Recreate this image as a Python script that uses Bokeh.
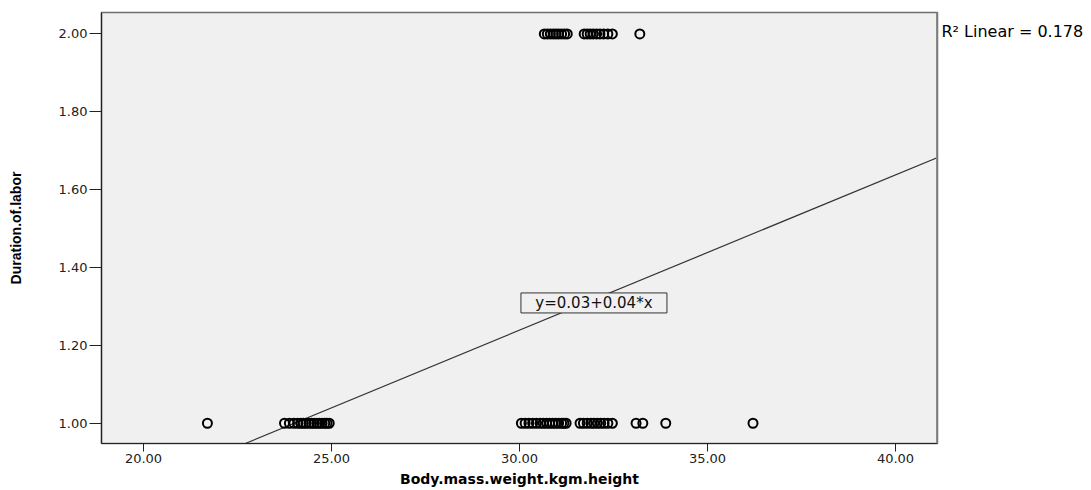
from bokeh.plotting import figure
from bokeh.layouts import row
from bokeh.models import Range1d, FixedTicker, PrintfTickFormatter, Slope, Label, Span
from bokeh.embed import file_html
from bokeh.resources import INLINE

# ---- data ----
bmi_short_labor = [21.7, 23.75, 23.88, 24.0, 24.1, 24.18, 24.25, 24.32, 24.4, 24.47, 24.54,
                   24.61, 24.68, 24.75, 24.82, 24.88, 24.94,
                   30.05, 30.15, 30.25, 30.35, 30.45, 30.55, 30.63, 30.72, 30.8, 30.88,
                   30.96, 31.04, 31.12, 31.18, 31.24,
                   31.61, 31.7, 31.8, 31.9, 31.98, 32.07, 32.16, 32.25, 32.35, 32.47,
                   33.1, 33.28, 33.89, 36.21]
bmi_long_labor = [30.66, 30.74, 30.82, 30.9, 30.97, 31.04, 31.12, 31.2, 31.27,
                  31.72, 31.8, 31.88, 31.96, 32.05, 32.14, 32.24, 32.35, 32.47, 33.2]
duration_levels = [1.0, 2.0]

fit_intercept = 0.042
fit_slope = 0.0399
equation_text = "y=0.03+0.04*x"
r2_text = "R\u00b2 Linear = 0.178"

x_ticks = [20, 25, 30, 35, 40]
y_ticks = [1.0, 1.2, 1.4, 1.6, 1.8, 2.0]

X0, X1 = 18.883, 41.117
Y0, Y1 = 0.948, 2.055

p = figure(width=940, height=490, output_backend="svg", toolbar_location=None,
           x_range=Range1d(X0, X1), y_range=Range1d(Y0, Y1),
           min_border_left=101, min_border_right=3, min_border_top=12, min_border_bottom=47)

p.background_fill_color = "#f0f0f0"
p.border_fill_color = "white"
p.outline_line_color = "#6e6e6e"
p.outline_line_width = 1.5
p.grid.visible = False

# axes
for ax in (p.xaxis[0], p.yaxis[0]):
    ax.axis_line_color = "#222222"
    ax.axis_line_width = 1.2
    ax.major_tick_line_color = "#222222"
    ax.major_tick_in = 0
    ax.minor_tick_line_color = None
    ax.formatter = PrintfTickFormatter(format="%.2f")
    ax.major_label_text_font = "DejaVu Sans"
    ax.major_label_text_font_size = "13px"
    ax.major_label_text_color = "#222222"

p.xaxis.ticker = FixedTicker(ticks=x_ticks)
p.yaxis.ticker = FixedTicker(ticks=y_ticks)

p.xaxis.major_tick_out = 8
p.xaxis.major_label_standoff = 2
p.xaxis.axis_label = "Body.mass.weight.kgm.height"
p.xaxis.axis_label_text_font = "DejaVu Sans"
p.xaxis.axis_label_text_font_style = "bold"
p.xaxis.axis_label_text_font_size = "14px"
p.xaxis.axis_label_text_color = "black"
p.xaxis.axis_label_standoff = 5

p.yaxis.major_tick_out = 12
p.yaxis.major_label_standoff = 2
p.yaxis.axis_label = "Duration.of.labor"
p.yaxis.axis_label_text_font = "Liberation Sans"
p.yaxis.axis_label_text_font_style = "bold"
p.yaxis.axis_label_text_font_size = "14px"
p.yaxis.axis_label_text_color = "black"
p.yaxis.axis_label_standoff = 32

# thick right border of the frame
p.add_layout(Span(location=X1, dimension="height", line_color="#8a8a8a", line_width=3))

# regression line (under the equation box)
fit = Slope(gradient=fit_slope, y_intercept=fit_intercept, line_color="#333333", line_width=1.2,
            level="underlay")
p.add_layout(fit)

# points
p.scatter(bmi_short_labor, [duration_levels[0]] * len(bmi_short_labor), marker="circle", size=9,
          fill_color=None, line_color="black", line_width=2)
p.scatter(bmi_long_labor, [duration_levels[1]] * len(bmi_long_labor), marker="circle", size=9,
          fill_color=None, line_color="black", line_width=2)

# equation box
EQ_X, EQ_Y = 31.98, 1.309
p.rect(x=[EQ_X], y=[EQ_Y], width=146, height=20, width_units="screen", height_units="screen",
       fill_color="#f0f0f0", line_color="#333333", line_width=1)
p.add_layout(Label(x=EQ_X, y=EQ_Y, text=equation_text, text_align="center", text_baseline="middle",
                   text_font="DejaVu Sans", text_font_size="15px", text_color="#111111"))

# side panel with the R^2 annotation
p2 = figure(width=151, height=490, output_backend="svg", toolbar_location=None,
            x_range=Range1d(0, 151), y_range=Range1d(490, 0), min_border=0)
p2.axis.visible = False
p2.grid.visible = False
p2.outline_line_color = None
p2.background_fill_color = "white"
p2.add_layout(Label(x=1, y=11, text=r2_text, text_align="left", text_baseline="top",
                    text_font="DejaVu Sans", text_font_size="16px", text_color="black"))

layout = row(p, p2)
open("out.html", "w").write(file_html(layout, INLINE))
